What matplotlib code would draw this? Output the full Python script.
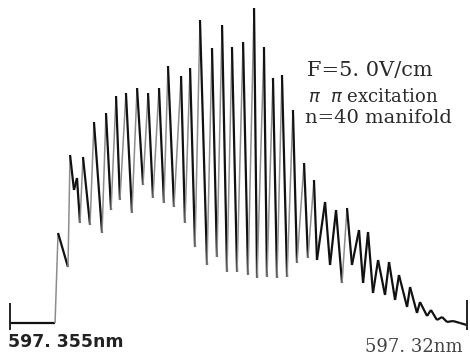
import numpy as np
import matplotlib
matplotlib.use("Agg")
import matplotlib.pyplot as plt
from matplotlib.collections import LineCollection

# chart recorder trace
# offset from 597.355 nm in pm (wavelength decreases to the right), intensity in arb. units
offset_pm = [0.00, 3.45, 3.68, 4.44, 4.60, 4.90, 5.13, 5.36, 5.59, 6.13,
             6.43, 7.05, 7.35, 7.74, 8.12, 8.42, 8.88, 9.34, 9.73, 10.19,
             10.57, 10.95, 11.41, 11.79, 12.10, 12.56, 13.10, 13.40, 13.79, 14.17,
             14.55, 15.09, 15.47, 15.85, 16.24, 16.62, 17.00, 17.39, 17.85, 18.23,
             18.69, 18.92, 19.45, 19.68, 20.14, 20.45, 20.83, 21.22, 21.67, 21.98,
             22.52, 22.82, 23.28, 23.51, 24.13, 24.51, 24.97, 25.43, 25.81, 26.19,
             26.73, 27.04, 27.42, 27.80, 28.19, 28.72, 29.03, 29.49, 29.79, 30.41,
             30.64, 31.17, 31.40, 31.94, 32.24, 32.70, 33.09, 33.47, 33.93, 34.46,
             35.00]
signal = [2, 2, 92, 58, 170, 135, 147, 102, 168, 100,
          203, 92, 212, 115, 229, 125, 232, 112, 237, 140,
          232, 127, 237, 122, 259, 118, 249, 102, 257, 78,
          305, 60, 277, 68, 300, 53, 278, 53, 283, 50,
          317, 47, 278, 48, 247, 47, 250, 48, 215, 62,
          162, 67, 145, 65, 123, 60, 115, 42, 117, 60,
          95, 42, 93, 32, 65, 30, 63, 25, 50, 18,
          38, 12, 23, 9, 15, 5, 8, 3, 4, 2,
          0]

# calibration marks at the two ends of the scan
mark_pos = [0.0, 35.0]
mark_lo = [-5, -5]
mark_hi = [22, 25]
mark_labels = ["597. 355nm", "597. 32nm"]

x = np.array(offset_pm)
y = np.array(signal)

fig = plt.figure(figsize=(4.7, 3.61), dpi=100)
ax = fig.add_axes([0, 0, 1, 1])

# fast upward pen strokes come out faint on the recorder chart
segs = np.stack([np.column_stack([x[:-1], y[:-1]]),
                 np.column_stack([x[1:], y[1:]])], axis=1)
rise = np.diff(y)
colors = ['#8c8c8c' if r > 60 else '#111111' for r in rise]
widths = [1.1 if r > 60 else 1.6 for r in rise]
ax.add_collection(LineCollection(segs, colors=colors, linewidths=widths))

ax.vlines(mark_pos, mark_lo, mark_hi, color='#222222', lw=1.4)

ax.set_xlim(-0.766, 35.23)
ax.set_ylim(-36, 325)
ax.axis('off')

serif = ['DejaVu Serif']
fig.text(0.653, 0.806, "F=5. 0V/cm", family=serif, fontsize=15,
         va='center', ha='left', color='#2a2a2a')
fig.text(0.655, 0.731, r"$\pi$  $\pi$ excitation", family=serif, fontsize=13,
         va='center', ha='left', color='#2a2a2a')
fig.text(0.649, 0.673, "n=40 manifold", family=serif, fontsize=14,
         va='center', ha='left', color='#2a2a2a')

fig.text(0.017, 0.053, mark_labels[0], family='DejaVu Sans', fontsize=12.5,
         fontweight='bold', va='center', ha='left', color='#222222')
fig.text(0.985, 0.039, mark_labels[1], family=serif, fontsize=13,
         va='center', ha='right', color='#444444')

fig.savefig("out.png", dpi=100)
